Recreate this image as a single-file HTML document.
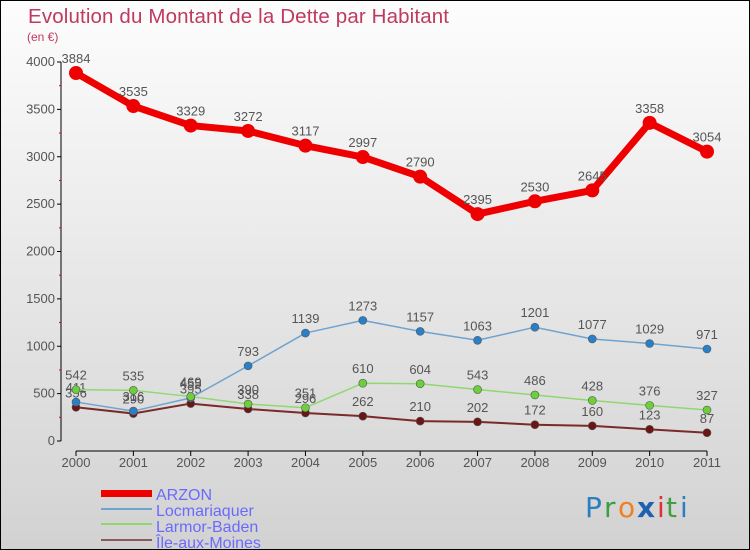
<!DOCTYPE html>
<html><head><meta charset="utf-8"><style>
body{margin:0}
#wrap{position:relative;width:750px;height:550px;overflow:hidden;border:1px solid #000;box-sizing:border-box;background:linear-gradient(#fdfdfd,#d2d2d2);font-family:"Liberation Sans",sans-serif}
svg{position:absolute;left:0;top:0}
</style></head><body>
<div id="wrap">
<svg id="c" width="750" height="550">
<text x="27" y="22" font-size="20.5" fill="#c0395f" textLength="421">Evolution du Montant de la Dette par Habitant</text>
<text x="26" y="40" font-size="12" fill="#c0395f">(en €)</text>
<g id="axes"></g><g id="series"></g>
<g>
<rect x="100" y="489" width="51" height="7" fill="#e00"/>
<text x="155" y="499" font-size="16" fill="#6a6aff">ARZON</text>
<rect x="100" y="507" width="51" height="2" fill="#6fa3d0"/>
<text x="155" y="515" font-size="16" fill="#6a6aff">Locmariaquer</text>
<rect x="100" y="522" width="51" height="2" fill="#8fd870"/>
<text x="155" y="531" font-size="16" fill="#6a6aff">Larmor-Baden</text>
<rect x="100" y="538" width="51" height="2" fill="#8a5a5a"/>
<text x="155" y="547" font-size="16" fill="#6a6aff">Île-aux-Moines</text>
</g>
<g font-size="28" font-family="'DejaVu Sans',sans-serif">
<text x="584" y="516" fill="#2a7fc0">P</text><text x="603" y="516" fill="#3aa040">r</text><text x="617" y="516" fill="#f08020">o</text><text x="636" y="516" fill="#2060b0" font-weight="bold">x</text><text x="656" y="516" fill="#e03030">i</text><text x="665" y="516" fill="#40a040">t</text><text x="679" y="516" fill="#2a7fc0">i</text>
</g>
</svg>
</div>
<script>
const years=["2000","2001","2002","2003","2004","2005","2006","2007","2008","2009","2010","2011"];
const arzon=[3884,3535,3329,3272,3117,2997,2790,2395,2530,2645,3358,3054];
const locmariaquer=[411,316,455,793,1139,1273,1157,1063,1201,1077,1029,971];
const larmor=[542,535,469,390,351,610,604,543,486,428,376,327];
const ile=[356,290,395,338,296,262,210,202,172,160,123,87];
const yTicks=[0,500,1000,1500,2000,2500,3000,3500,4000];
const NS="http://www.w3.org/2000/svg";
const X=i=>75+i*(631/11);
const Y=v=>440-v*(379/4000);
function mk(t,a,p){const e=document.createElementNS(NS,t);for(const k in a)e.setAttribute(k,a[k]);p.appendChild(e);return e;}
const ax=document.getElementById('axes');
let yl=mk('line',{x1:60,y1:Y(4000),x2:60,y2:Y(0),stroke:'#000'},ax);


yTicks.forEach(v=>{
 mk('line',{x1:56,y1:Y(v),x2:60,y2:Y(v),stroke:'#000'},ax);
 if(v<4000)mk('line',{x1:58,y1:Y(v+250),x2:60,y2:Y(v+250),stroke:'#e00'},ax);
 const t=mk('text',{x:54,y:Y(v)+4,'font-size':13,fill:'#555','text-anchor':'end'},ax);t.textContent=v;
 
 
});
let xl=mk('line',{x1:X(0),y1:450,x2:X(11),y2:450,stroke:'#000'},ax);


years.forEach((y,i)=>{
 mk('line',{x1:X(i),y1:450,x2:X(i),y2:455,stroke:'#000'},ax);
 const t=mk('text',{x:X(i),y:466,'font-size':13,fill:'#555','text-anchor':'middle'},ax);t.textContent=y;
 
 
});
const sg=document.getElementById('series');
function series(d,col,dot,w,r,name){
 const g=mk('g',{},sg);
 
 
 const p=mk('polyline',{points:d.map((v,i)=>X(i)+','+Y(v)).join(' '),fill:'none',stroke:col,'stroke-width':w,'stroke-linejoin':'round'},g);
 
 
 d.forEach((v,i)=>{
  const c=mk('circle',{cx:X(i),cy:Y(v),r:r,fill:dot,stroke:'#555','stroke-width':r>5?0:0.6},g);
  
  
  const t=mk('text',{x:X(i),y:Y(v)-10,'font-size':13,fill:'#555','text-anchor':'middle'},g);t.textContent=v;
  
  
 });
}
series(ile,'#7a2a2a','#6b1515',2,4,'ile-aux-moines');
series(locmariaquer,'#6fa3d0','#2a80c8',1.5,4,'locmariaquer');
series(larmor,'#8fd870','#6cd03a',1.5,4,'larmor-baden');
series(arzon,'#e00','#e00',7,7,'arzon');
</script>
</body></html>
